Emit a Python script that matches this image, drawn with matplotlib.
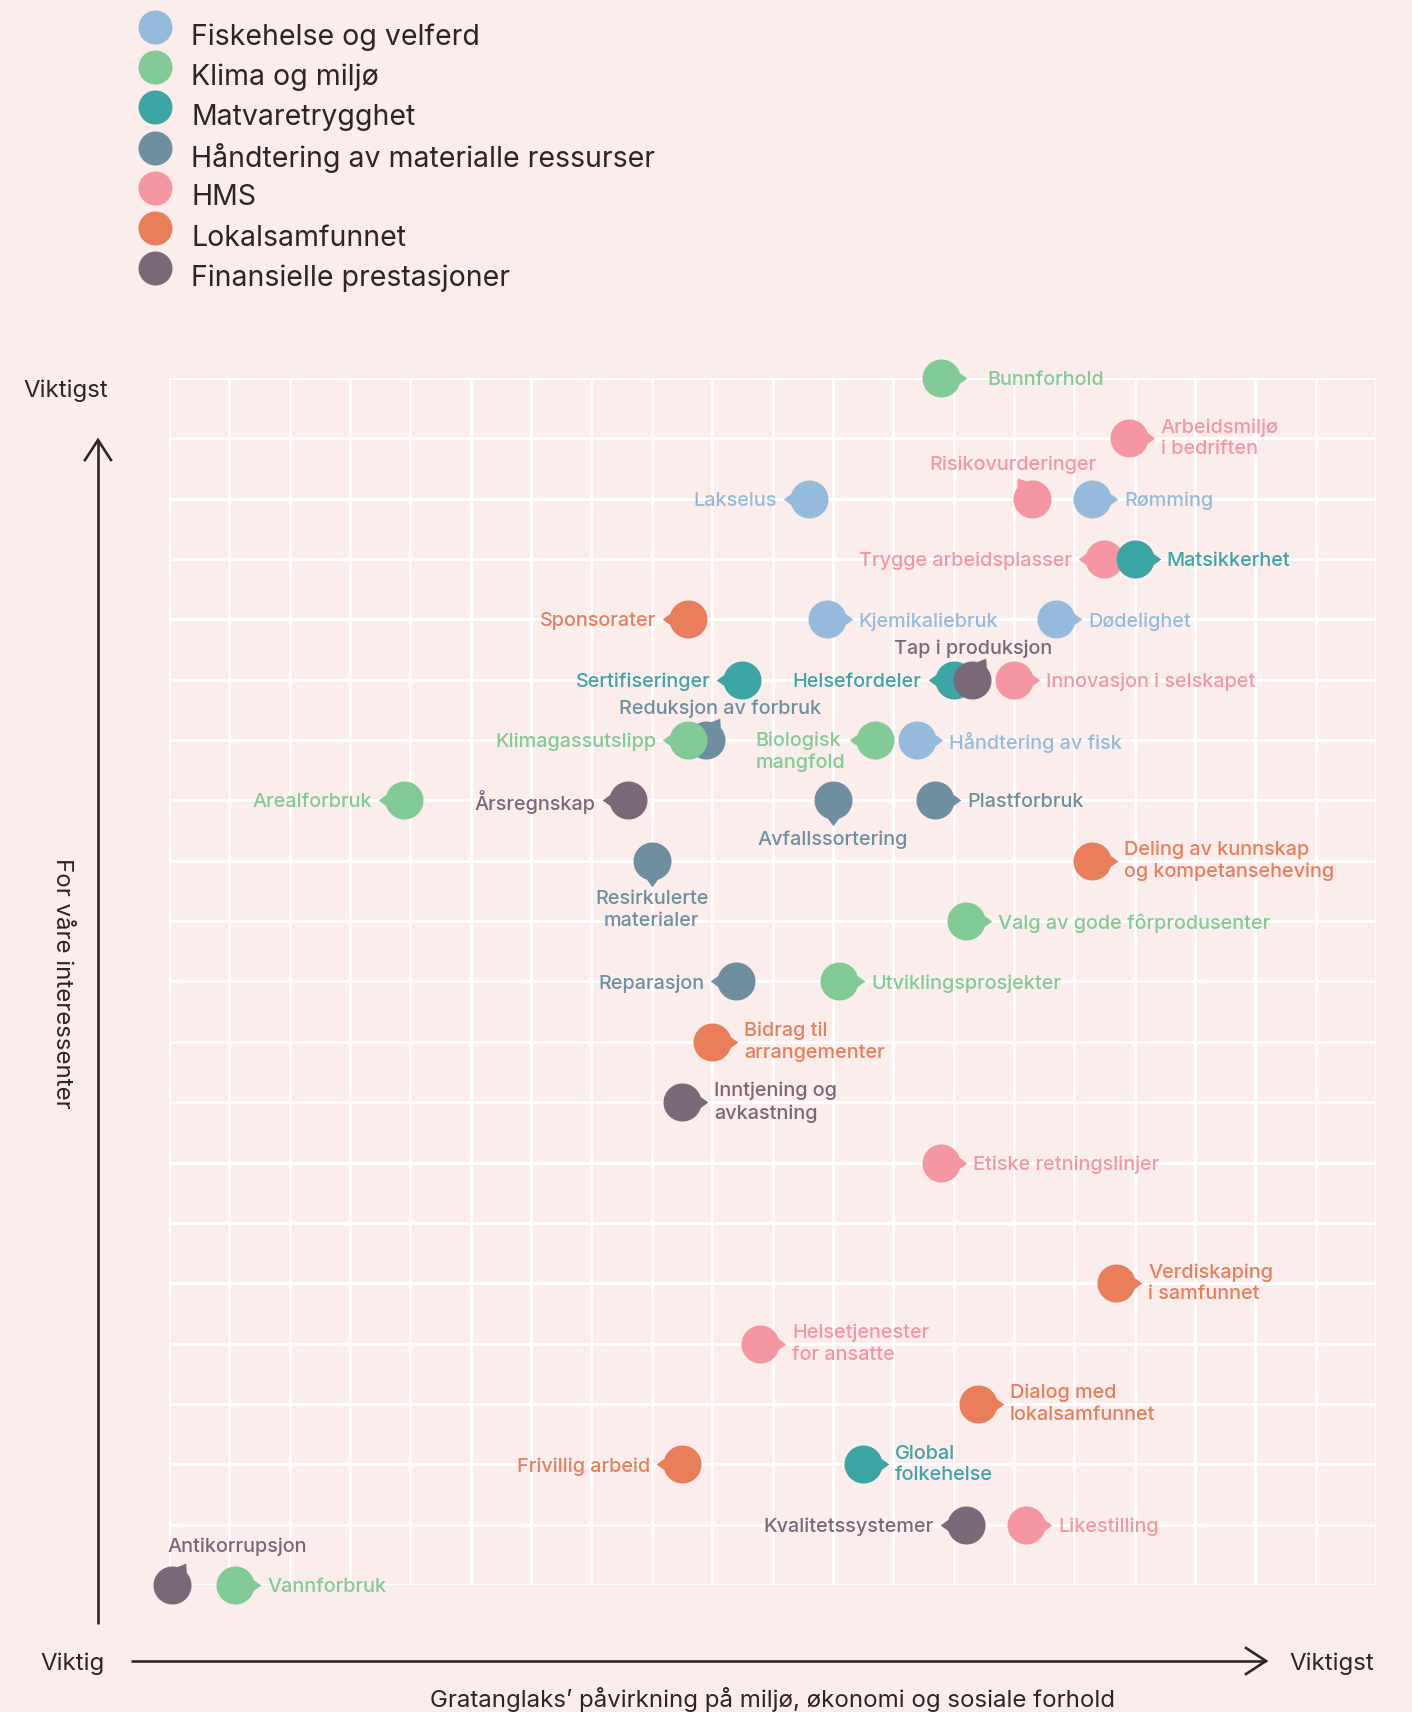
import numpy as np
import matplotlib
matplotlib.use("Agg")
import matplotlib.pyplot as plt
from matplotlib.path import Path
from matplotlib.markers import MarkerStyle

# ---------------- data ----------------
categories = ["Fiskehelse og velferd", "Klima og miljø", "Matvaretrygghet",
              "Håndtering av materialle ressurser", "HMS", "Lokalsamfunnet",
              "Finansielle prestasjoner"]
cat_colors = ["#96BADC", "#82CA96", "#3DA5A6", "#6F8FA0", "#F497A2", "#E97E5B", "#7A6879"]

topics = ["Bunnforhold", "Arbeidsmiljø\ni bedriften", "Risikovurderinger", "Rømming",
          "Lakselus", "Trygge arbeidsplasser", "Matsikkerhet", "Sponsorater",
          "Kjemikaliebruk", "Dødelighet", "Sertifiseringer", "Helsefordeler",
          "Tap i produksjon", "Innovasjon i selskapet", "Reduksjon av forbruk",
          "Klimagassutslipp", "Biologisk\nmangfold", "Håndtering av fisk",
          "Arealforbruk", "Årsregnskap", "Avfallssortering", "Plastforbruk",
          "Resirkulerte\nmaterialer", "Deling av kunnskap\nog kompetanseheving",
          "Valg av gode fôrprodusenter", "Reparasjon", "Utviklingsprosjekter",
          "Bidrag til\narrangementer", "Inntjening og\navkastning",
          "Etiske retningslinjer", "Verdiskaping\ni samfunnet",
          "Helsetjenester\nfor ansatte", "Dialog med\nlokalsamfunnet",
          "Frivillig arbeid", "Global\nfolkehelse", "Kvalitetssystemer",
          "Likestilling", "Antikorrupsjon", "Vannforbruk"]
topic_category = [1, 4, 4, 0, 0, 4, 2, 5, 0, 0, 2, 2, 6, 4, 3, 1, 1, 0, 1, 6, 3, 3, 3,
                  5, 1, 3, 1, 5, 6, 4, 5, 4, 5, 5, 2, 6, 4, 6, 1]
impact = [12.8, 15.9, 14.3, 15.3, 10.6, 15.5, 16.0, 8.6, 10.9, 14.7, 9.5, 13.0, 13.3,
          14.0, 8.9, 8.6, 11.7, 12.4, 3.9, 7.6, 11.0, 12.7, 8.0, 15.3, 13.2, 9.4,
          11.1, 9.0, 8.5, 12.8, 15.7, 9.8, 13.4, 8.5, 11.5, 13.2, 14.2, 0.05, 1.1]
stakeholders = [20, 19, 18, 18, 18, 17, 17, 16, 16, 16, 15, 15, 15, 15, 14, 14, 14, 14,
                13, 13, 13, 13, 12, 12, 11, 10, 10, 9, 8, 7, 5, 4, 3, 2, 2, 1, 1, 0, 0]
label_side = ["r", "r", "ul", "r", "l", "l", "r", "l", "r", "r", "l", "l", "ur", "r",
              "ur", "l", "l", "r", "l", "l", "d", "r", "d", "r", "r", "l", "r", "r",
              "r", "r", "r", "r", "r", "l", "r", "l", "r", "ur", "r"]

# ---------------- layout ----------------
W, H = 1412, 1712
DPI = 100
BG = "#FBEDEC"
INK = "#2B2527"
FONT = "Inter"
PX2PT = 72.0 / DPI

# label offsets (px) for the non-standard placements
special = {
    "Bunnforhold": (46, 0),
    "Risikovurderinger": (-19, 36),
    "Tap i produksjon": (1, 33),
    "Reduksjon av forbruk": (14, 33),
    "Antikorrupsjon": (65, 40),
    "Avfallssortering": (0, -37),
    "Resirkulerte\nmaterialer": (0, -49),
    "Biologisk\nmangfold": (-30, -12),
}
side_angle = {"r": 0, "l": 180, "ul": 125, "ur": 58, "d": 270}

fig = plt.figure(figsize=(W / DPI, H / DPI), dpi=DPI, facecolor=BG)

gx0, gx1, gy0, gy1 = 169, 1376, 378, 1585
ax = fig.add_axes([gx0 / W, 1 - gy1 / H, (gx1 - gx0) / W, (gy1 - gy0) / H], zorder=2)
ax.set_facecolor(BG)
ax.set_xlim(0, 20)
ax.set_ylim(0, 20)
ax.set_xticks(np.arange(0, 21))
ax.set_yticks(np.arange(0, 21))
ax.tick_params(length=0, labelbottom=False, labelleft=False)
for s in ax.spines.values():
    s.set_visible(False)
ax.grid(True, color="white", linewidth=2.1)
ax.set_axisbelow(True)

DIAM_PX = 38


def drop_path(angle_deg, half_deg=17, tip=1.36):
    half = np.deg2rad(half_deg)
    t = np.linspace(half, 2 * np.pi - half, 90)
    v = np.column_stack([np.cos(t), np.sin(t)])
    v = np.vstack([v, [tip, 0.0], v[:1]])
    a = np.deg2rad(angle_deg)
    R = np.array([[np.cos(a), -np.sin(a)], [np.sin(a), np.cos(a)]])
    v = v @ R.T
    codes = [Path.MOVETO] + [Path.LINETO] * (len(v) - 2) + [Path.CLOSEPOLY]
    return Path(v, codes)


for k, name in enumerate(topics):
    c = cat_colors[topic_category[k]]
    side = label_side[k]
    p = drop_path(side_angle[side])
    rescale = np.max(np.abs(p.vertices))
    ms = DIAM_PX * PX2PT * rescale
    ax.plot([impact[k]], [stakeholders[k]], linestyle="none",
            marker=MarkerStyle(p), markersize=ms, color=c, markeredgewidth=0,
            clip_on=False, zorder=3 + k * 0.01)

    multi = "\n" in name
    if name in special:
        dx, dy = special[name]
    elif side == "r":
        dx, dy = 32, 0
    else:
        dx, dy = -32, 0
    if side == "r":
        ha = "left"
    elif side == "l":
        ha = "right"
    else:
        ha = "center"
    va = "center" if multi else "center_baseline"
    ax.annotate(name, (impact[k], stakeholders[k]), xytext=(dx * PX2PT, dy * PX2PT),
                textcoords="offset points", ha=ha, va=va, color=c, fontsize=14.3,
                family=FONT, fontweight="medium", linespacing=1.25,
                multialignment="left" if ha != "center" else "center",
                annotation_clip=False, zorder=10)

# ---------------- decoration overlay (pixel coords) ----------------
ov = fig.add_axes([0, 0, 1, 1], zorder=1)
ov.set_xlim(0, W)
ov.set_ylim(H, 0)
ov.axis("off")
ov.patch.set_alpha(0)

# legend
for i, (lab, col) in enumerate(zip(categories, cat_colors)):
    cy = 27 + i * 40.2
    ov.plot([155], [cy], "o", ms=34 * PX2PT, color=col, mec="none")
    ov.text(191, cy + 7, lab, fontsize=20.5, family=FONT, color=INK,
            ha="left", va="center_baseline")

# arrows
lw = 2.6 * PX2PT
ov.plot([98, 98], [1624, 440], color=INK, lw=lw, solid_capstyle="butt")
ov.plot([85, 98, 111], [460, 440, 460], color=INK, lw=lw, solid_joinstyle="miter")
ov.plot([131, 1266], [1661, 1661], color=INK, lw=lw, solid_capstyle="butt")
ov.plot([1246, 1266, 1246], [1648, 1661, 1674], color=INK, lw=lw, solid_joinstyle="miter")

AX_FS = 17.3
ov.text(66, 388, "Viktigst", fontsize=AX_FS, family=FONT, color=INK, ha="center", va="center_baseline")
ov.text(73, 1661, "Viktig", fontsize=AX_FS, family=FONT, color=INK, ha="center", va="center_baseline")
ov.text(1332, 1661, "Viktigst", fontsize=AX_FS, family=FONT, color=INK, ha="center", va="center_baseline")
ov.text(62, 983, "For våre interessenter", fontsize=AX_FS, family=FONT, color=INK,
        rotation=-90, ha="center", va="center")
ov.text(772, 1697, "Gratanglaks’ påvirkning på miljø, økonomi og sosiale forhold",
        fontsize=AX_FS, family=FONT, color=INK, ha="center", va="center_baseline")

fig.savefig("out.png", dpi=DPI, facecolor=BG)
